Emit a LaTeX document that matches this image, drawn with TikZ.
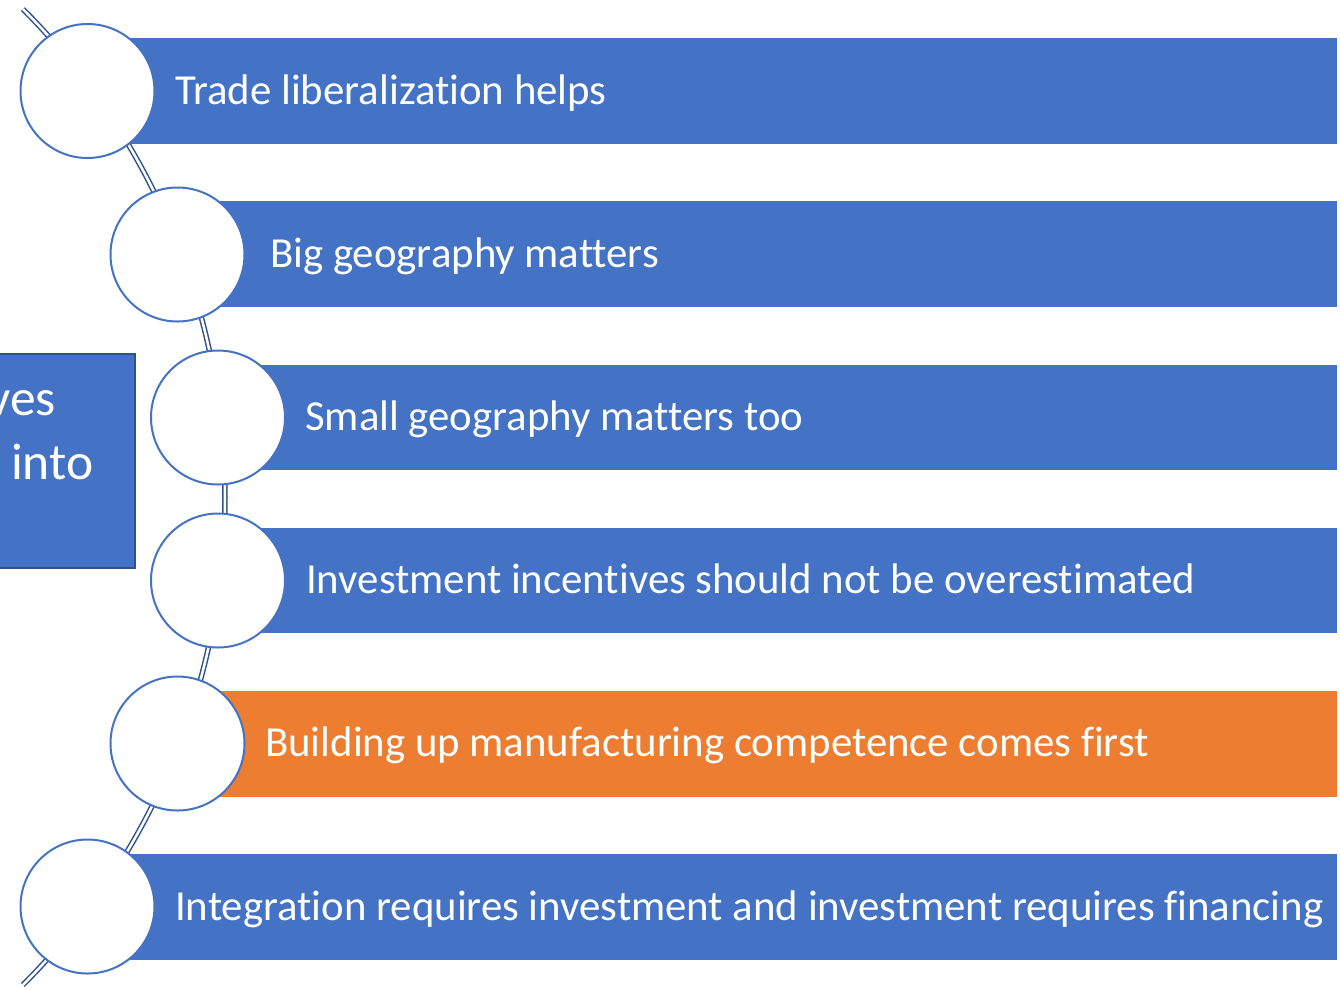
\documentclass[tikz,border=0pt]{standalone}
\usepackage{fontspec}
\setmainfont{Carlito}[Ligatures=NoCommon]
\definecolor{accblue}{HTML}{4472C4}
\definecolor{accorange}{HTML}{ED7D31}
\definecolor{darkblue}{HTML}{2F528F}
\begin{document}
\begin{tikzpicture}[x=1pt,y=-1pt,
  bar/.style={fill=accblue,draw=none},
  orangebar/.style={fill=accorange,draw=none},
  dot/.style={circle,draw=accblue,line width=2pt,fill=white,minimum size=134pt,inner sep=0pt},
  bartext/.style={anchor=base west,inner sep=0pt,text=white,font=\fontsize{42.8}{50}\selectfont},
  boxtext/.style={anchor=base west,inner sep=0pt,text=white,font=\fontsize{51.5}{60}\selectfont},
  spine/.style={draw=darkblue,double=white,line width=1.5pt,double distance=2.5pt}]
\useasboundingbox (0,0) rectangle (1340,989);
\begin{scope}
\clip (0,0) rectangle (1340,989);
% left box (cut off)
\draw[fill=accblue,draw=darkblue,line width=2pt] (-40,354) rectangle (135,568);
\node[boxtext,anchor=base east] (v) at (56,415) {ves};
\node[boxtext] (i) at (11,479) {into};
% spine arc
\coordinate (c) at (-465,497);
\draw[spine] (c) ++(-45:690) arc[start angle=-45,end angle=45,radius=690];
% bars
\fill[bar] (88,38) rectangle (1337,144);
\fill[bar] (177,201) rectangle (1337,307);
\fill[bar] (218,365) rectangle (1337,470);
\fill[bar] (218,528) rectangle (1337,633);
\fill[orangebar] (177,691) rectangle (1337,797);
\fill[bar] (88,854) rectangle (1337,960);
% circles
\node[dot] (c1) at (87.5,91) {};
\node[dot] (c2) at (177.5,254.5) {};
\node[dot] (c3) at (218,417.5) {};
\node[dot] (c4) at (218,580.5) {};
\node[dot] (c5) at (177.5,743.5) {};
\node[dot] (c6) at (87.5,906.5) {};
% texts
\node[bartext] (t1) at (175,104) {Trade liberalization helps};
\node[bartext] (t2) at (270,267) {Big geography matters};
\node[bartext] (t3) at (305,430) {Small geography matters too};
\node[bartext] (t4) at (306,593) {Investment incentives should not be overestimated};
\node[bartext] (t5) at (265,756) {Building up manufacturing competence comes first};
\node[bartext] (t6) at (175,920) {Integration requires investment and investment requires financing};
\end{scope}
\end{tikzpicture}
\end{document}
